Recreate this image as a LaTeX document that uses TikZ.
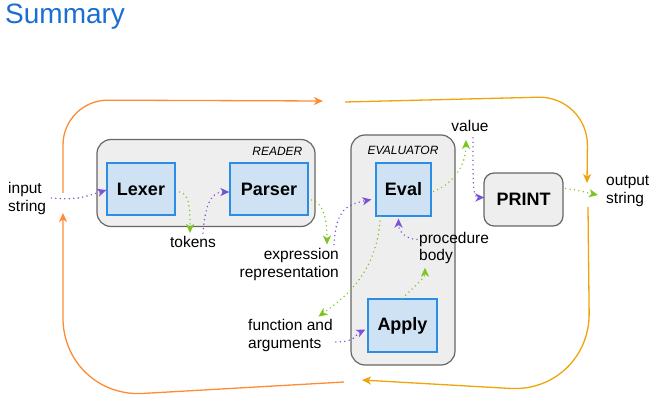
\documentclass[tikz,border=0pt]{standalone}
\usepackage{fontspec}
\setmainfont{Liberation Sans}
\usetikzlibrary{arrows.meta}
\definecolor{titleblue}{HTML}{1C6DD0}
\definecolor{stagefill}{HTML}{CFE2F3}
\definecolor{stageedge}{HTML}{2B8DE3}
\definecolor{panelfill}{HTML}{EEEEEE}
\definecolor{paneledge}{HTML}{666666}
\definecolor{feedpurple}{HTML}{7B52D6}
\definecolor{yieldgreen}{HTML}{7CC520}
\definecolor{loopleft}{HTML}{FF8C33}
\definecolor{loopright}{HTML}{F0A30A}
\tikzset{
  panel/.style={draw=paneledge, fill=panelfill, line width=1.2pt, rounded corners=14pt, inner sep=0pt},
  stage/.style={draw=stageedge, fill=stagefill, line width=1.2pt, inner sep=0pt,
    font=\fontsize{18}{20}\selectfont\bfseries},
  lbl/.style={font=\fontsize{15.5}{18}\selectfont, inner sep=0pt},
  tag/.style={font=\fontsize{12}{14}\selectfont\itshape, inner sep=0pt},
  feed/.style={draw=feedpurple, line width=1.6pt, line cap=round, dash pattern=on 0pt off 4.5pt,
    -{Stealth[length=9pt,width=8pt,inset=2.5pt]}},
  yield/.style={feed, draw=yieldgreen},
  loopA/.style={draw=loopleft, line width=1.3pt, -{Stealth[length=9pt,width=8pt,inset=2.5pt]}},
  loopB/.style={loopA, draw=loopright},
}
\begin{document}
\begin{tikzpicture}[x=1pt,y=-1pt]
\useasboundingbox (0,0) rectangle (656,403);
%title
\node[anchor=north west, inner sep=0pt, text=titleblue, font=\fontsize{28}{30}\selectfont] (title) at (5,4) {Summary};
%reader and evaluator panels
\node[panel, minimum width=218pt, minimum height=87pt] (reader) at (206,183) {};
\node[tag, anchor=north east] (readertag) at ([xshift=-13pt,yshift=-8pt]reader.north east) {READER};
\node[panel, minimum width=104pt, minimum height=230pt] (evaluator) at (403,250) {};
\node[tag, anchor=north] (evaltag) at ([yshift=-12pt]evaluator.north) {EVALUATOR};
%stages
\node[stage, minimum width=68pt, minimum height=52pt] (lexer) at (141,189) {Lexer};
\node[stage, minimum width=78pt, minimum height=52pt] (parser) at (269,189) {Parser};
\node[stage, minimum width=55pt, minimum height=53pt] (eval) at (403.5,189.5) {Eval};
\node[stage, minimum width=69pt, minimum height=53pt] (apply) at (402.5,325.5) {Apply};
\node[panel, rounded corners=10pt, minimum width=79pt, minimum height=53pt,
  font=\fontsize{18}{20}\selectfont\bfseries] (print) at (523.5,199.5) {PRINT};
%data labels
\node[lbl, align=left, anchor=west] (input) at (8,198) {input\\string};
\node[lbl] (tokens) at (193,242) {tokens};
\node[lbl, align=right, anchor=east] (expr) at (339,264) {expression\\representation};
\node[lbl] (value) at (470,126) {value};
\node[lbl, align=left, anchor=west, font=\fontsize{15.5}{16.5}\selectfont] (proc) at (419,248) {procedure\\body};
\node[lbl, align=left, anchor=west] (output) at (606,191) {output\\string};
\node[lbl, align=left, anchor=west] (func) at (248,335) {function and\\arguments};
%outer loop
\coordinate (loopTL) at (323,101);
\coordinate (loopTR) at (345,102);
\coordinate (loopBR) at (362,380);
\coordinate (loopBL) at (344,382);
\coordinate (upL) at (63,193);
\coordinate (arrL) at (63,213);
\coordinate (downR) at (587,183);
\coordinate (startR) at (588,207);
\draw[loopA, rounded corners=45pt] (upL) -- (63,100) -- (loopTL);
\draw[loopB, rounded corners=50pt] (loopTR) -- (588,96) -- (downR);
\draw[loopB, rounded corners=80pt] (startR) -- (590,393) -- (loopBR);
\draw[loopA, rounded corners=80pt] (loopBL) -- (63,398) -- (arrL);
%reader links
\draw[feed] ([xshift=5pt]input.east) .. controls +(25,2) and +(-25,8) .. ([yshift=-1pt]lexer.west);
\draw[yield] ([xshift=4pt,yshift=-3pt]lexer.east) .. controls +(10,2) and +(0,-25) .. ([xshift=-3pt,yshift=3pt]tokens.north);
\draw[feed] ([xshift=10pt,yshift=3pt]tokens.north) .. controls +(2,-25) and +(-20,0) .. ([yshift=-3pt]parser.west);
\draw[yield] ([xshift=3pt,yshift=-11pt]parser.east) .. controls +(12,3) and +(0,-25) .. ([xshift=-12pt,yshift=3pt]expr.north east);
%evaluator links
\draw[feed] ([xshift=-5pt,yshift=3pt]expr.north east) .. controls +(2,-35) and +(-25,5) .. ([xshift=-4pt,yshift=-10pt]eval.west);
\draw[yield] ([xshift=5pt]eval.south west) .. controls +(-3,50) and +(35,-25) .. ([xshift=28pt,yshift=2pt]func.north);
\draw[feed] ([xshift=3pt,yshift=-7pt]func.east) .. controls +(20,0) and +(-10,5) .. ([xshift=-2pt,yshift=-4pt]apply.west);
\draw[yield] (apply.north) .. controls +(15,-15) and +(0,10) .. ([xshift=6pt,yshift=-4pt]proc.south west);
\draw[feed] ([xshift=-2pt,yshift=-7pt]proc.north west) .. controls +(-12,0) and +(0,12) .. ([xshift=-5pt,yshift=-2pt]eval.south);
\draw[yield] ([xshift=2pt,yshift=-2pt]eval.east) .. controls +(20,-8) and +(0,25) .. ([xshift=-4pt,yshift=-8pt]value.south);
\draw[feed] ([xshift=3pt,yshift=-6pt]value.south) .. controls +(0,45) and +(-12,0) .. ([xshift=1pt,yshift=2pt]print.west);
%print link
\draw[yield] ([xshift=2pt,yshift=11pt]print.east) .. controls +(15,2) and +(-10,-2) .. ([xshift=-8pt,yshift=-4pt]output.west);
\end{tikzpicture}
\end{document}
